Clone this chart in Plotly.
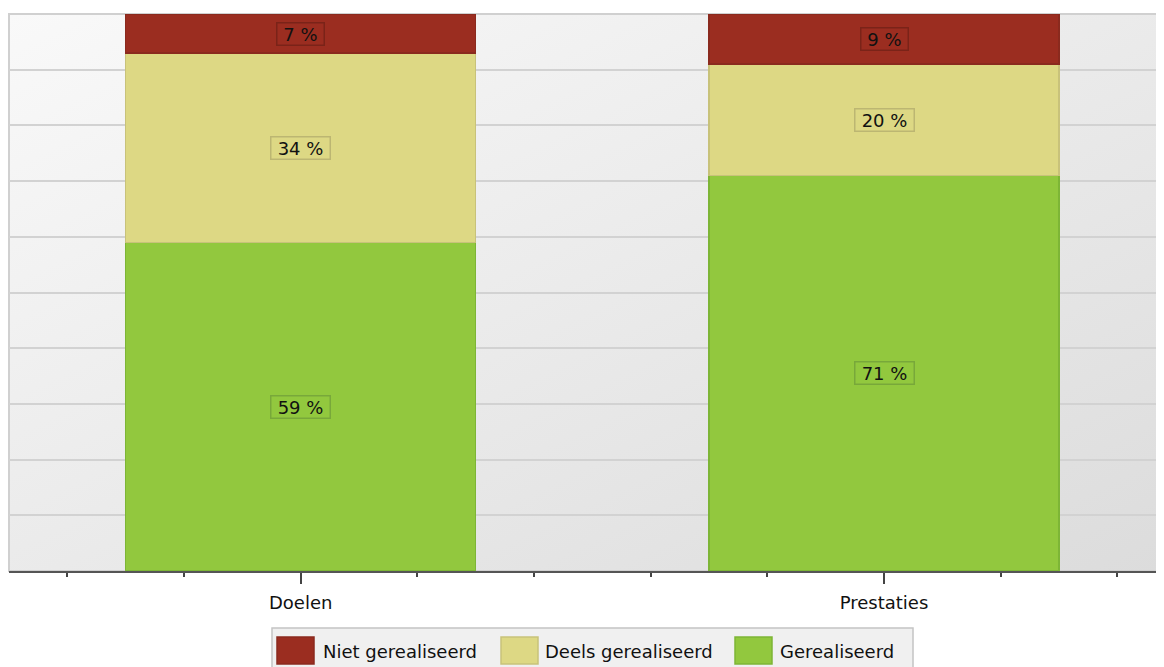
import urllib.parse

import plotly.graph_objects as go

# data
categories = ["Doelen", "Prestaties"]
series_names = ["Gerealiseerd", "Deels gerealiseerd", "Niet gerealiseerd"]
gerealiseerd = [59, 71]
deels_gerealiseerd = [34, 20]
niet_gerealiseerd = [7, 9]
series_values = [gerealiseerd, deels_gerealiseerd, niet_gerealiseerd]

fill_colors = ["#92c83e", "#ddd884", "#9b2d20"]
line_colors = ["#7db536", "#c8c27a", "#8a2a1e"]
label_borders = ["#78a83a", "#bcb672", "#7a2318"]

FONT = "DejaVu Sans"
# the page puts the figure 8px in from the top-left corner
W, H = 1156, 659
L, R, T, B = 1, 0, 6, 96
# plot area in screen pixels
SX0, SX1, SY0, SY1 = 9, 1164, 14, 571


def px(x):
    return (x - SX0) / (SX1 - SX0)


def py(y):
    return (SY1 - y) / (SY1 - SY0)


xs = list(range(len(categories)))

fig = go.Figure()
for name, vals, fc, lc in zip(series_names, series_values, fill_colors, line_colors):
    fig.add_trace(
        go.Bar(
            x=xs,
            y=vals,
            name=name,
            width=0.6,
            marker=dict(color=fc, line=dict(color=lc, width=1.5)),
            showlegend=False,
            hoverinfo="skip",
        )
    )

# boxed percentage labels in the middle of each segment
annotations = []
for i, x in enumerate(xs):
    base = 0
    for vals, fc, bc in zip(series_values, fill_colors, label_borders):
        v = vals[i]
        text = f"{v} %"
        annotations.append(
            dict(
                x=x,
                y=base + v / 2,
                xref="x",
                yref="y",
                text=text,
                showarrow=False,
                font=dict(family=FONT, size=18, color="#111111"),
                bgcolor=fc,
                bordercolor=bc,
                borderwidth=1.5,
                borderpad=0,
                width=12 * len(text) + 10,
                height=21,
            )
        )
        base += v

# legend drawn by hand (big square swatches like the original)
legend_order = [2, 1, 0]
swatch_x = [277, 501, 735]
text_x = [321, 543, 778]
shapes = [
    dict(
        type="rect",
        xref="paper",
        yref="paper",
        x0=px(272),
        x1=px(913),
        y0=py(672),
        y1=py(628),
        fillcolor="#f0f0f0",
        line=dict(color="#c4c4c4", width=1.5),
        layer="above",
    ),
    # light frame around plot area (top / left)
    dict(
        type="rect",
        xref="paper",
        yref="paper",
        x0=0,
        x1=1.01,
        y0=0,
        y1=1,
        line=dict(color="#d0d0d0", width=2),
        layer="below",
    ),
]
for k, idx in enumerate(legend_order):
    shapes.append(
        dict(
            type="rect",
            xref="paper",
            yref="paper",
            x0=px(swatch_x[k]),
            x1=px(swatch_x[k] + 37),
            y0=py(664),
            y1=py(637),
            fillcolor=fill_colors[idx],
            line=dict(color=line_colors[idx], width=1.5),
            layer="above",
        )
    )
    annotations.append(
        dict(
            x=px(text_x[k]),
            y=py(651),
            xref="paper",
            yref="paper",
            xanchor="left",
            yanchor="middle",
            text=series_names[idx],
            showarrow=False,
            font=dict(family=FONT, size=18, color="#111111"),
        )
    )

svg = (
    "<svg xmlns='http://www.w3.org/2000/svg' width='100' height='100' preserveAspectRatio='none'>"
    "<defs><linearGradient id='g' x1='0' y1='0' x2='1' y2='1'>"
    "<stop offset='0' stop-color='#f9f9f9'/><stop offset='1' stop-color='#dcdcdc'/>"
    "</linearGradient></defs><rect width='100' height='100' fill='url(#g)'/></svg>"
)
bg_src = "data:image/svg+xml;charset=utf-8," + urllib.parse.quote(svg)

fig.update_layout(
    width=W,
    height=H,
    margin=dict(l=L, r=R, t=T, b=B),
    barmode="stack",
    paper_bgcolor="white",
    plot_bgcolor="rgba(0,0,0,0)",
    font=dict(family=FONT, size=18, color="#111111"),
    shapes=shapes,
    annotations=annotations,
    images=[
        dict(
            source=bg_src,
            xref="paper",
            yref="paper",
            x=0,
            y=1,
            sizex=1,
            sizey=1,
            sizing="stretch",
            xanchor="left",
            yanchor="top",
            layer="below",
        )
    ],
    showlegend=False,
)

fig.update_xaxes(
    range=[-0.5, 1.48],
    tickmode="array",
    tickvals=xs,
    ticktext=categories,
    ticks="outside",
    ticklen=11,
    tickwidth=1.5,
    tickcolor="#444444",
    ticklabelstandoff=3,
    tickfont=dict(family=FONT, size=18, color="#111111"),
    showline=True,
    linecolor="#555555",
    linewidth=2,
    showgrid=False,
    zeroline=False,
    minor=dict(ticks="outside", ticklen=4, tickwidth=1.5, tickcolor="#444444", dtick=0.2, tick0=0),
)
fig.update_yaxes(
    range=[0, 100],
    dtick=10,
    showticklabels=False,
    showgrid=True,
    gridcolor="#d2d2d2",
    gridwidth=1.5,
    zeroline=False,
    showline=False,
)

fig.write_html("out.html")
